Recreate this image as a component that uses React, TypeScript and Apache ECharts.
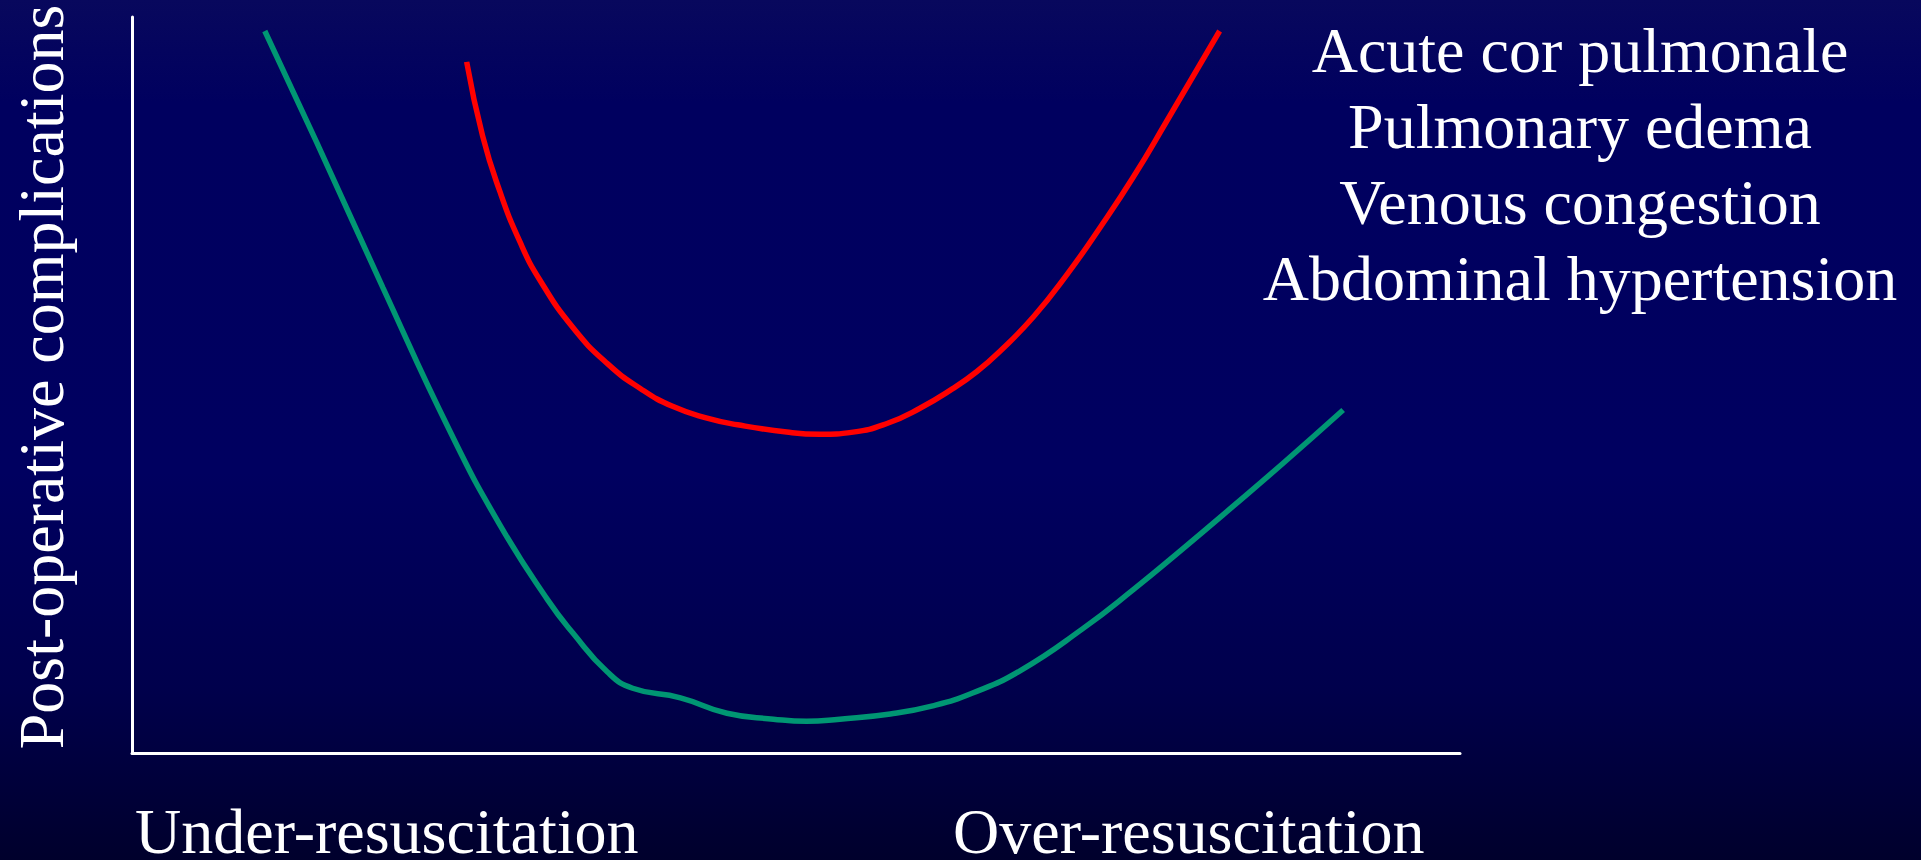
import { useEffect, useRef } from 'react';
import * as echarts from 'echarts';

// Axis titles and the list of over-resuscitation complications
const yTitle = 'Post-operative complications';
const xEndLabels = ['Under-resuscitation', 'Over-resuscitation'];
const complicationList = [
  'Acute cor pulmonale',
  'Pulmonary edema',
  'Venous congestion',
  'Abdominal hypertension',
];

// Lower (green) U-shaped curve, fluid load (0-100) vs. complication level (0-100)
const lowerX = [10.0, 13.9, 18.9, 24.0, 27.7, 31.3, 33.2, 35.8, 37.7, 41.3, 44.8, 48.3, 50.8, 53.3, 57.1, 60.3, 63.3, 66.9, 71.6, 75.4, 79.1, 82.9, 86.7, 91.2];
const lowerY = [98.1, 83.0, 63.2, 43.5, 31.0, 20.8, 16.3, 11.0, 8.8, 7.5, 5.4, 4.6, 4.3, 4.6, 5.3, 6.4, 8.15, 11.2, 16.9, 22.2, 27.7, 33.5, 39.4, 46.6];

// Upper (red) U-shaped curve
const upperX = [25.2, 26.4, 27.7, 29.2, 30.7, 33.2, 35.8, 38.3, 40.7, 43.3, 45.6, 49.3, 51.8, 54.3, 56.9, 59.3, 61.8, 63.6, 65.4, 67.9, 70.4, 72.9, 75.4, 77.9, 81.9];
const upperY = [93.9, 83.85, 76.3, 69.5, 64.3, 57.8, 52.9, 49.5, 47.1, 45.5, 44.6, 43.6, 43.3, 43.6, 44.8, 46.8, 49.5, 51.8, 54.65, 59.3, 65.0, 71.4, 78.25, 85.8, 98.1];

const FONT = '"Liberation Serif", "Times New Roman", Times, serif';

const zip = (xs: number[], ys: number[]) => xs.map((x, i) => [x, ys[i]]);

export default function App() {
  const ref = useRef<HTMLDivElement>(null);

  useEffect(() => {
    if (!ref.current) return;
    const chart = echarts.init(ref.current, undefined, { renderer: 'svg' });

    const textStyle = (text: string, align: string) => ({
      text,
      fill: '#ffffff',
      font: `64px ${FONT}`,
      align,
      verticalAlign: 'middle',
    });

    chart.setOption({
      animation: false,
      backgroundColor: 'transparent',
      grid: { left: 132, top: 17, right: 461, bottom: 107 },
      xAxis: {
        type: 'value',
        min: 0,
        max: 100,
        axisLine: { show: true, lineStyle: { color: '#ffffff', width: 3 } },
        axisTick: { show: false },
        axisLabel: { show: false },
        splitLine: { show: false },
      },
      yAxis: {
        type: 'value',
        min: 0,
        max: 100,
        axisLine: { show: true, lineStyle: { color: '#ffffff', width: 3 } },
        axisTick: { show: false },
        axisLabel: { show: false },
        splitLine: { show: false },
      },
      series: [
        {
          name: 'Lower curve',
          type: 'line',
          data: zip(lowerX, lowerY),
          showSymbol: false,
          smooth: 0.5,
          lineStyle: { color: '#009673', width: 5.5 },
        },
        {
          name: 'Upper curve',
          type: 'line',
          data: zip(upperX, upperY),
          showSymbol: false,
          smooth: 0.5,
          lineStyle: { color: '#ff0000', width: 5.5 },
        },
      ],
      graphic: [
        {
          type: 'text',
          x: 41,
          y: 377,
          rotation: Math.PI / 2,
          style: textStyle(yTitle, 'center'),
        },
        { type: 'text', x: 135, y: 831, style: textStyle(xEndLabels[0], 'left') },
        { type: 'text', x: 953, y: 831, style: textStyle(xEndLabels[1], 'left') },
        ...complicationList.map((t, i) => ({
          type: 'text',
          x: 1580,
          y: 50.5 + i * 76,
          style: textStyle(t, 'center'),
        })),
      ],
    });

    return () => chart.dispose();
  }, []);

  return (
    <div
      ref={ref}
      style={{
        position: 'fixed',
        left: 0,
        top: 0,
        width: 1921,
        height: 860,
        background:
          'linear-gradient(to bottom, #08085d 0%, #00005f 12%, #000060 55%, #00004c 80%, #00002c 100%)',
      }}
    />
  );
}
